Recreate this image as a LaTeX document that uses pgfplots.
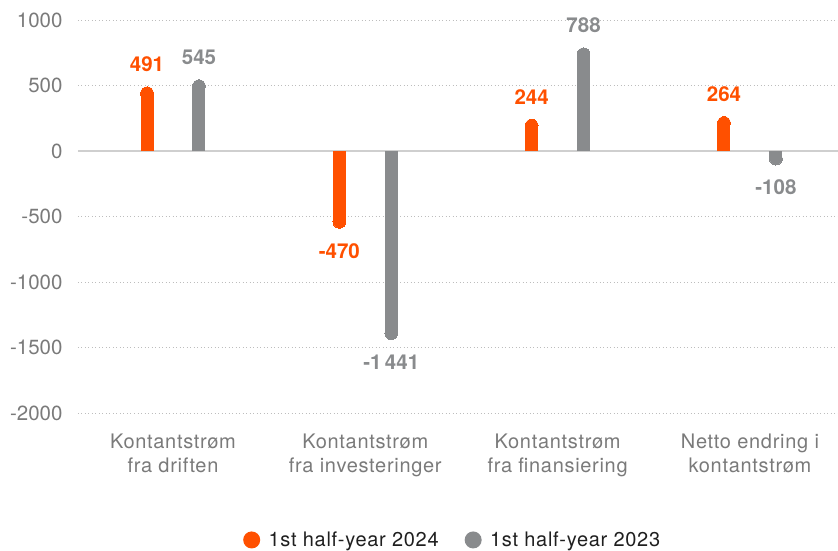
\documentclass[border=0pt]{standalone}
\usepackage{pgfplots}
\pgfplotsset{compat=1.18}
\usepackage{pgfplotstable}
\usepackage{fontspec}
\setmainfont{TeX Gyre Heros}
\definecolor{orC}{HTML}{FF5000}
\definecolor{grC}{HTML}{898B8D}
\definecolor{tkC}{HTML}{7A7A7A}
\definecolor{gridC}{HTML}{BDBDBD}
\definecolor{zeroC}{HTML}{CFCFCF}
\newcommand\fs{\fontsize{20.5}{24}\selectfont}
\newcommand\ft{\fontsize{20}{24}\selectfont\addfontfeatures{LetterSpace=3.5}}

\pgfplotstableread[col sep=comma]{
x,y,d,lab
0,491,1,491
1,-590,-1,-470
2,244,1,244
3,264,1,264
}\tA
\pgfplotstableread[col sep=comma]{
x,y,d,lab
0,545,1,545
1,-1441,-1,-1\thinspace441
2,788,1,788
3,-108,-1,-108
}\tB

\begin{document}
\begin{tikzpicture}
\useasboundingbox (-78pt,-137pt) rectangle (760pt,413pt);
\begin{axis}[
  scale only axis, width=760pt, height=393pt,
  xmin=-0.494, xmax=3.458, ymin=-2000, ymax=1000,
  axis line style={draw=none}, tick style={draw=none},
  major tick length=0pt,
  ytick={-2000,-1500,-1000,-500,0,500,1000},
  ymajorgrids,
  grid style={gridC, line width=0.8pt, dash pattern=on 1pt off 2.5pt},
  extra y ticks={0}, extra y tick labels={},
  extra y tick style={grid style={solid, zeroC, line width=1.3pt}},
  scaled y ticks=false,
  /pgf/number format/assume math mode=true,
  /pgf/number format/1000 sep={},
  yticklabel style={font=\fs, text=tkC, xshift=-12pt},
  xtick={0,1,2,3},
  xticklabels={{Kontantstrøm\\fra driften},{Kontantstrøm\\fra investeringer},{Kontantstrøm\\fra finansiering},{Netto endring i\\kontantstrøm}},
  xticklabel style={font=\ft, text=tkC, align=center, yshift=-17pt},
  legend style={at={(0.493,-0.323)}, anchor=center, draw=none, fill=none,
    legend columns=2, font=\ft, text=black!88,
    /tikz/every even column/.append style={column sep=24pt}},
  point meta=explicit symbolic,
  visualization depends on={\thisrow{d} \as \dir},
  nodes near coords,
]
\addplot[ycomb, orC, line width=13pt, mark=*, mark size=6.4pt,
  mark options={fill=orC, draw=none, line width=0pt},
  nodes near coords style={font=\fs\bfseries, text=orC, anchor=center, yshift=\dir*29pt},
  legend image code/.code={\path[fill=orC, draw=none, line width=0pt] (0pt,0pt) circle (8.5pt); \path[draw=none] (-8.5pt,0pt) -- (15pt,0pt);}]
  table[x expr=\thisrow{x}-0.135, y expr=\thisrow{y}-50*\thisrow{d}, meta=lab] {\tA};
\addlegendentry{1st half-year 2024}
\addplot[ycomb, grC, line width=13pt, mark=*, mark size=6.4pt,
  mark options={fill=grC, draw=none, line width=0pt},
  nodes near coords style={font=\fs\bfseries, text=grC, anchor=center, yshift=\dir*29pt},
  legend image code/.code={\path[fill=grC, draw=none, line width=0pt] (0pt,0pt) circle (8.5pt); \path[draw=none] (-8.5pt,0pt) -- (15pt,0pt);}]
  table[x expr=\thisrow{x}+0.135, y expr=\thisrow{y}-50*\thisrow{d}, meta=lab] {\tB};
\addlegendentry{1st half-year 2023}
\end{axis}
\end{tikzpicture}
\end{document}
